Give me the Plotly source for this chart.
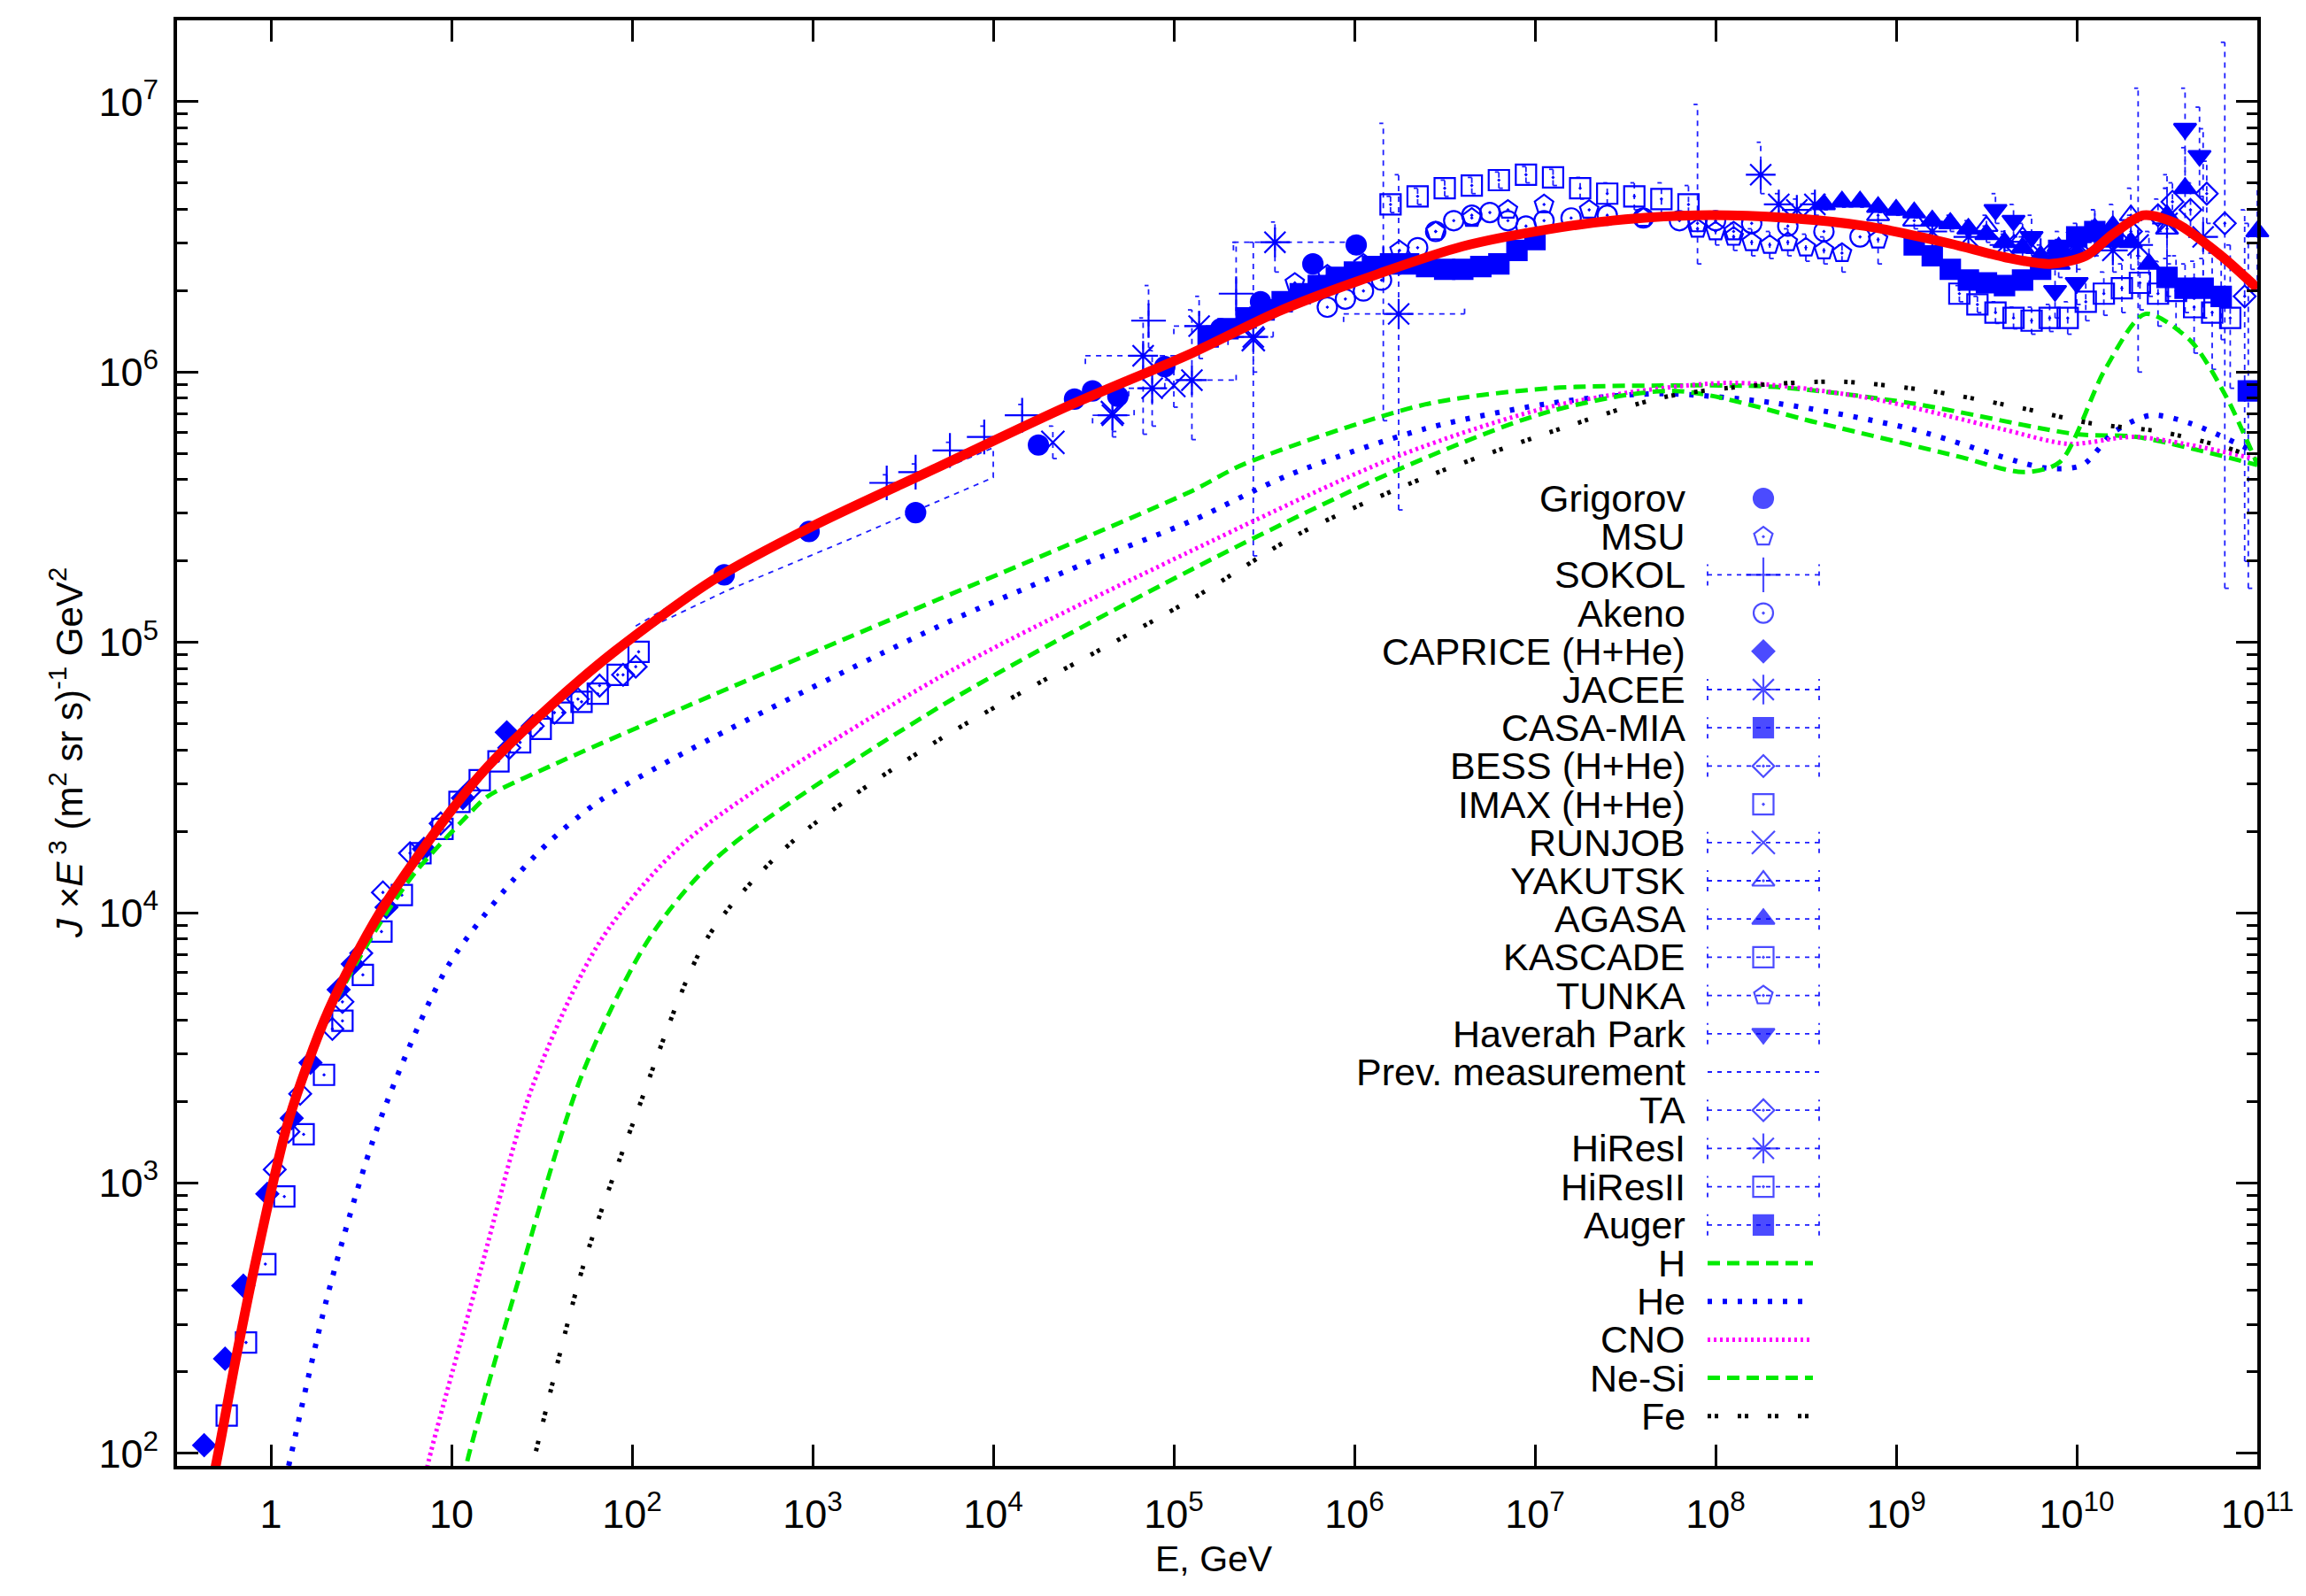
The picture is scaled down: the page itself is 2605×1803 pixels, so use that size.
import plotly.graph_objects as go

# ------------------------------------------------------------------
# Data (all values are log10 of E [GeV] and of J*E^3)
# ------------------------------------------------------------------
total_logE = [-0.36, -0.307, -0.2, -0.091, 0.097, 0.32, 0.603, 0.978, 1.2, 1.54, 1.9, 2.448, 3.0, 3.70,
              4.4, 5.10, 5.6, 6.14, 6.6, 7.14, 7.5, 7.9, 8.4, 8.83, 9.3, 9.6, 9.85, 10.05, 10.2, 10.37,
              10.55, 10.8, 11.0]
total_logJ = [1.80, 1.95, 2.33, 2.69, 3.23, 3.64, 4.0, 4.36, 4.54, 4.76, 4.965, 5.23, 5.43, 5.65,
              5.87, 6.07, 6.23, 6.365, 6.465, 6.535, 6.565, 6.58, 6.57, 6.54, 6.475, 6.425, 6.40, 6.43, 6.51, 6.58,
              6.55, 6.43, 6.31]

H_logE = [-0.36, -0.307, -0.091, 0.097, 0.32, 0.603, 0.8, 1.09, 1.2, 1.54, 2.29, 3.70, 4.2, 5.10, 5.39,
          6.39, 7.08, 7.7, 8.33, 9.08, 10.0, 10.33, 11.0]
H_logJ = [1.80, 1.95, 2.69, 3.22, 3.62, 3.96, 4.15, 4.36, 4.43, 4.54, 4.76, 5.16, 5.30, 5.56, 5.66,
          5.88, 5.94, 5.95, 5.945, 5.885, 5.77, 5.76, 5.656]

He_logE = [0.08, 0.097, 0.32, 0.603, 0.978, 1.353, 1.546, 1.823, 2.44, 3.70, 4.5, 5.10, 5.64, 6.39, 7.14,
           7.706, 8.33, 9.08, 9.83, 10.03, 10.21, 10.41, 10.63, 11.0]
He_logJ = [1.90, 1.95, 2.60, 3.23, 3.80, 4.13, 4.265, 4.415, 4.645, 5.06, 5.29, 5.45, 5.62, 5.79, 5.89,
           5.92, 5.885, 5.79, 5.645, 5.656, 5.78, 5.84, 5.81, 5.70]

CNO_logE = [0.85, 0.866, 1.166, 1.447, 1.823, 2.30, 3.70, 5.07, 6.245, 7.14, 8.08, 8.83, 9.58, 9.956,
            10.33, 11.0]
CNO_logJ = [1.88, 1.95, 2.69, 3.355, 3.894, 4.265, 4.87, 5.33, 5.69, 5.88, 5.96, 5.906, 5.79, 5.734,
            5.76, 5.677]

NeSi_logE = [1.07, 1.08, 1.353, 1.728, 2.10, 2.48, 3.70, 5.10, 6.245, 7.08, 7.78, 8.58, 9.33, 9.706,
             9.906, 10.157, 10.38, 10.63, 10.83, 10.94, 11.0]
NeSi_logJ = [1.90, 1.95, 2.60, 3.41, 3.91, 4.21, 4.76, 5.27, 5.64, 5.854, 5.93, 5.81, 5.69, 5.63,
             5.667, 6.01, 6.215, 6.116, 5.906, 5.75, 5.66]

Fe_logE = [1.43, 1.447, 1.728, 2.01, 2.42, 2.90, 3.70, 5.10, 5.69, 6.39, 7.14, 7.706, 8.206, 8.706,
           9.206, 9.706, 10.08, 10.457, 10.83, 11.0]
Fe_logJ = [1.90, 1.95, 2.69, 3.23, 3.91, 4.27, 4.64, 5.16, 5.40, 5.61, 5.79, 5.906, 5.95, 5.964,
           5.928, 5.865, 5.81, 5.78, 5.72, 5.68]

grigorov_logE = [2.51, 2.98, 3.57, 4.25, 4.45, 4.55, 4.69, 4.95, 5.26, 5.48, 5.77, 6.01]
grigorov_logJ = [5.25, 5.41, 5.48, 5.73, 5.90, 5.93, 5.91, 6.02, 6.16, 6.26, 6.40, 6.47]

msu_logE = [5.67, 5.85, 6.05, 6.25, 6.45, 6.65, 6.85, 7.05, 7.3, 7.6, 7.9, 8.1]
msu_logJ = [6.33, 6.36, 6.40, 6.45, 6.52, 6.57, 6.60, 6.62, 6.60, 6.57, 6.53, 6.52]

sokol_logE = [3.41, 3.57, 3.76, 3.95, 4.16, 4.86, 5.345, 6.16]
sokol_logJ = [5.59, 5.63, 5.71, 5.76, 5.84, 6.19, 6.29, 6.40]
sokol_lo = [5.56, 5.60, 5.68, 5.72, 5.80, 6.09, 6.13, 5.82]
sokol_hi = [5.62, 5.66, 5.74, 5.80, 5.88, 6.32, 6.48, 6.92]

akeno_logE = [5.85, 5.95, 6.05, 6.15, 6.25, 6.35, 6.45, 6.55, 6.65, 6.75, 6.85, 6.95, 7.05, 7.2, 7.4,
              7.6, 7.8, 8.0, 8.2, 8.4, 8.6, 8.8]
akeno_logJ = [6.24, 6.27, 6.30, 6.34, 6.40, 6.46, 6.52, 6.56, 6.58, 6.59, 6.56, 6.54, 6.56, 6.57, 6.58,
              6.57, 6.56, 6.56, 6.55, 6.54, 6.52, 6.50]

caprice_logE = [-0.37, -0.254, -0.153, -0.02, 0.115, 0.219, 0.375, 0.453, 0.64, 0.847, 1.063, 1.306]
caprice_logJ = [2.03, 2.35, 2.62, 2.96, 3.24, 3.445, 3.715, 3.81, 4.02, 4.236, 4.424, 4.667]

jacee_logE = [4.66, 4.83, 4.88, 5.10, 5.14, 5.44, 5.56, 6.245]
jacee_logJ = [5.84, 6.06, 5.94, 5.97, 6.17, 6.13, 6.48, 6.215]
jacee_lo = [5.76, 5.77, 5.80, 5.75, 6.05, 5.32, 6.37, 5.49]
jacee_hi = [5.92, 6.20, 6.08, 6.23, 6.28, 6.48, 6.555, 6.73]
jacee_left = [4.55, 4.51, 4.75, 4.95, 5.0, 5.30, 5.33, 5.94]
jacee_right = [4.78, 5.10, 5.0, 5.345, 5.30, 5.55, 6.0, 6.61]

casamia_logE = [5.19, 5.30, 5.40, 5.50, 5.60, 5.70, 5.80, 5.90, 6.00, 6.10, 6.20, 6.30, 6.40, 6.50,
                6.60, 6.70, 6.80, 6.90, 7.00]
casamia_logJ = [6.13, 6.16, 6.20, 6.23, 6.26, 6.29, 6.32, 6.35, 6.37, 6.39, 6.40, 6.40, 6.39, 6.38,
                6.38, 6.39, 6.40, 6.45, 6.49]

bess_logE = [0.021, 0.097, 0.162, 0.34, 0.396, 0.5, 0.62, 0.77, 0.94, 1.1, 1.32, 1.45, 1.57, 1.70, 1.82,
             1.95, 2.02]
bess_logJ = [3.05, 3.19, 3.33, 3.57, 3.67, 3.85, 4.075, 4.22, 4.33, 4.45, 4.61, 4.69, 4.74, 4.79, 4.84,
             4.88, 4.91]

imax_logE = [-0.245, -0.138, -0.031, 0.074, 0.181, 0.294, 0.396, 0.509, 0.612, 0.725, 0.828, 0.95, 1.044,
             1.156, 1.26, 1.38, 1.494, 1.616, 1.72, 1.81, 1.92, 2.036]
imax_logJ = [2.14, 2.41, 2.70, 2.95, 3.18, 3.40, 3.60, 3.77, 3.93, 4.065, 4.22, 4.31, 4.41, 4.49, 4.56,
             4.63, 4.68, 4.74, 4.78, 4.81, 4.88, 4.965]

runjob_logE = [4.33, 4.66, 5.0, 5.44]
runjob_logJ = [5.74, 5.85, 5.95, 6.12]
runjob_lo = [5.68, 5.78, 5.87, 6.0]
runjob_hi = [5.80, 5.92, 6.03, 6.24]

yakutsk_logE = [8.9, 9.1, 9.3, 9.5, 9.7, 9.9, 10.1, 10.3, 10.5]
yakutsk_logJ = [6.58, 6.56, 6.55, 6.54, 6.50, 6.46, 6.53, 6.58, 6.53]
yakutsk_lo = [6.55, 6.53, 6.52, 6.50, 6.45, 6.40, 6.45, 6.48, 6.38]
yakutsk_hi = [6.61, 6.59, 6.58, 6.58, 6.55, 6.52, 6.60, 6.68, 6.68]

agasa_logE = [8.6, 8.7, 8.8, 8.9, 9.0, 9.1, 9.2, 9.3, 9.4, 9.5, 9.6, 9.7, 9.8, 9.9, 10.0, 10.1, 10.2,
              10.3, 10.4, 10.5, 10.6, 11.0]
agasa_logJ = [6.62, 6.63, 6.63, 6.61, 6.60, 6.59, 6.56, 6.55, 6.53, 6.51, 6.48, 6.46, 6.43, 6.40, 6.44,
              6.53, 6.54, 6.48, 6.40, 6.58, 6.68, 6.52]
agasa_lo = [6.60, 6.61, 6.61, 6.59, 6.58, 6.57, 6.54, 6.53, 6.50, 6.48, 6.45, 6.42, 6.39, 6.35, 6.38,
            6.46, 6.46, 6.38, 6.28, 6.43, 6.53, 6.30]
agasa_hi = [6.64, 6.65, 6.65, 6.63, 6.62, 6.61, 6.58, 6.57, 6.56, 6.54, 6.51, 6.50, 6.47, 6.45, 6.50,
            6.60, 6.62, 6.58, 6.52, 6.73, 6.83, 6.70]

kascade_logE = [6.2, 6.35, 6.5, 6.65, 6.8, 6.95, 7.1, 7.25, 7.4, 7.55, 7.7, 7.85]
kascade_logJ = [6.62, 6.65, 6.68, 6.69, 6.71, 6.73, 6.72, 6.68, 6.66, 6.65, 6.64, 6.62]
kascade_lo = [6.59, 6.62, 6.65, 6.66, 6.68, 6.70, 6.69, 6.64, 6.62, 6.60, 6.58, 6.55]
kascade_hi = [6.65, 6.68, 6.71, 6.72, 6.74, 6.76, 6.75, 6.72, 6.70, 6.70, 6.70, 6.69]

tunka_logE = [7.9, 8.0, 8.1, 8.2, 8.3, 8.4, 8.5, 8.6, 8.7, 8.9]
tunka_logJ = [6.55, 6.52, 6.50, 6.48, 6.47, 6.48, 6.46, 6.45, 6.44, 6.49]
tunka_lo = [6.40, 6.47, 6.45, 6.43, 6.42, 6.43, 6.41, 6.40, 6.37, 6.40]
tunka_hi = [6.99, 6.57, 6.55, 6.53, 6.52, 6.53, 6.51, 6.50, 6.47, 6.62]

haverah_logE = [9.55, 9.65, 9.75, 9.88, 10.0, 10.6, 10.68]
haverah_logJ = [6.60, 6.56, 6.50, 6.30, 6.33, 6.90, 6.80]
haverah_lo = [6.55, 6.50, 6.43, 6.20, 6.25, 6.70, 6.65]
haverah_hi = [6.66, 6.62, 6.58, 6.40, 6.42, 7.05, 6.98]

prev_upper_logE = [2.02, 2.70, 3.32, 4.0]
prev_upper_logJ = [5.06, 5.33, 5.53, 5.72]
prev_lower_logE = [2.02, 2.52, 3.20, 4.0]
prev_lower_logJ = [5.03, 5.19, 5.38, 5.61]

ta_logE = [9.9, 10.1, 10.3, 10.45, 10.53, 10.63, 10.72, 10.82, 10.93]
ta_logJ = [6.45, 6.47, 6.52, 6.58, 6.63, 6.60, 6.66, 6.55, 6.28]
ta_lo = [6.41, 6.43, 6.47, 6.52, 6.56, 6.50, 6.55, 5.20, 5.30]
ta_hi = [6.49, 6.51, 6.57, 6.64, 6.70, 6.70, 6.78, 7.22, 6.60]

hires1_logE = [8.25, 8.35, 8.45, 8.55, 9.2, 9.4, 9.6, 9.8, 10.0, 10.2, 10.34, 10.5, 10.7]
hires1_logJ = [6.73, 6.62, 6.60, 6.62, 6.52, 6.50, 6.47, 6.44, 6.48, 6.45, 6.47, 6.55, 6.50]
hires1_lo = [6.66, 6.58, 6.56, 6.58, 6.48, 6.46, 6.42, 6.38, 6.42, 6.37, 6.00, 6.40, 6.20]
hires1_hi = [6.85, 6.66, 6.64, 6.66, 6.56, 6.54, 6.52, 6.50, 6.55, 6.54, 7.05, 6.68, 6.90]

hires2_logE = [9.35, 9.45, 9.55, 9.65, 9.75, 9.85, 9.95, 10.05, 10.15, 10.25, 10.35, 10.45, 10.55, 10.65,
               10.75, 10.85]
hires2_logJ = [6.29, 6.25, 6.22, 6.20, 6.19, 6.20, 6.20, 6.26, 6.29, 6.31, 6.33, 6.29, 6.30, 6.24,
               6.22, 6.20]
hires2_lo = [6.26, 6.22, 6.18, 6.16, 6.14, 6.15, 6.14, 6.19, 6.21, 6.22, 6.23, 6.17, 6.16, 6.07,
             6.01, 5.94]
hires2_hi = [6.32, 6.28, 6.26, 6.24, 6.24, 6.25, 6.26, 6.33, 6.37, 6.40, 6.43, 6.41, 6.43, 6.41,
             6.44, 6.47]

auger_logE = [9.1, 9.2, 9.3, 9.4, 9.5, 9.6, 9.7, 9.8, 9.9, 10.0, 10.1, 10.2, 10.5, 10.6, 10.7, 10.8,
              10.95]
auger_logJ = [6.47, 6.43, 6.38, 6.34, 6.33, 6.32, 6.34, 6.38, 6.45, 6.50, 6.52, 6.50, 6.35, 6.31, 6.31,
              6.28, 5.93]
auger_lo = [6.45, 6.41, 6.36, 6.32, 6.31, 6.30, 6.32, 6.36, 6.42, 6.47, 6.48, 6.45, 6.28, 6.22, 6.20,
            6.12, 5.20]
auger_hi = [6.49, 6.45, 6.40, 6.36, 6.35, 6.34, 6.36, 6.40, 6.48, 6.53, 6.56, 6.55, 6.42, 6.40, 6.42,
            6.42, 6.55]

x_tick_exp = [0, 1, 2, 3, 4, 5, 6, 7, 8, 9, 10, 11]
y_tick_exp = [2, 3, 4, 5, 6, 7]
legend_labels = ["Grigorov", "MSU", "SOKOL", "Akeno", "CAPRICE (H+He)", "JACEE", "CASA-MIA",
                 "BESS (H+He)", "IMAX (H+He)", "RUNJOB", "YAKUTSK", "AGASA", "KASCADE", "TUNKA",
                 "Haverah Park", "Prev. measurement", "TA", "HiResI", "HiResII", "Auger",
                 "H", "He", "CNO", "Ne-Si", "Fe"]

# ------------------------------------------------------------------
BLUE = "rgb(0,0,255)"
OPEN_BLUE = "rgb(30,30,255)"
FONT = "Liberation Sans, Arial, Helvetica, sans-serif"


def P(v):
    return [10 ** t for t in v]


fig = go.Figure()

# ---------- error bars (dashed, drawn from the data arrays) ----------
ex, ey = [], []
cap = 0.022  # half cap width in decades
for le, lo, hi in [(sokol_logE, sokol_lo, sokol_hi), (jacee_logE, jacee_lo, jacee_hi),
                   (runjob_logE, runjob_lo, runjob_hi), (yakutsk_logE, yakutsk_lo, yakutsk_hi),
                   (agasa_logE, agasa_lo, agasa_hi), (kascade_logE, kascade_lo, kascade_hi),
                   (tunka_logE, tunka_lo, tunka_hi), (haverah_logE, haverah_lo, haverah_hi),
                   (ta_logE, ta_lo, ta_hi), (hires1_logE, hires1_lo, hires1_hi),
                   (hires2_logE, hires2_lo, hires2_hi), (auger_logE, auger_lo, auger_hi)]:
    for e, l, h in zip(le, lo, hi):
        ex += [10 ** e, 10 ** e, None, 10 ** (e - cap), 10 ** e, None, 10 ** e, 10 ** (e + cap), None]
        ey += [10 ** l, 10 ** h, None, 10 ** h, 10 ** h, None, 10 ** l, 10 ** l, None]
for l, r, y in zip(jacee_left, jacee_right, jacee_logJ):
    ex += [10 ** l, 10 ** r, None, 10 ** l, 10 ** l, None, 10 ** r, 10 ** r, None]
    ey += [10 ** y, 10 ** y, None, 10 ** (y - 0.03), 10 ** y, None, 10 ** y, 10 ** (y + 0.03), None]
fig.add_trace(go.Scatter(x=ex, y=ey, mode="lines", hoverinfo="skip", showlegend=False,
                         line=dict(color=OPEN_BLUE, width=1.8, dash="6px,6px")))

# Previous measurement band
pbx = P(prev_upper_logE) + P(prev_lower_logE[::-1])
pby = P(prev_upper_logJ) + P(prev_lower_logJ[::-1])
fig.add_trace(go.Scatter(x=pbx, y=pby, mode="lines", hoverinfo="skip", showlegend=False,
                         line=dict(color=OPEN_BLUE, width=1.8, dash="6px,6px")))

# ---------- data markers ----------
series = [
    (grigorov_logE, grigorov_logJ, "circle", 22),
    (msu_logE, msu_logJ, "pentagon-open-dot", 22),
    (sokol_logE, sokol_logJ, "cross-thin-open", 28),
    (akeno_logE, akeno_logJ, "circle-open-dot", 22),
    (caprice_logE, caprice_logJ, "diamond", 19),
    (jacee_logE, jacee_logJ, "asterisk-open", 28),
    (casamia_logE, casamia_logJ, "square", 22),
    (bess_logE, bess_logJ, "diamond-open-dot", 19),
    (imax_logE, imax_logJ, "square-open-dot", 23),
    (runjob_logE, runjob_logJ, "x-thin-open", 26),
    (yakutsk_logE, yakutsk_logJ, "triangle-up-open-dot", 22),
    (agasa_logE, agasa_logJ, "triangle-up", 22),
    (kascade_logE, kascade_logJ, "square-open-dot", 23),
    (tunka_logE, tunka_logJ, "pentagon-open-dot", 22),
    (haverah_logE, haverah_logJ, "triangle-down", 22),
    (ta_logE, ta_logJ, "diamond-open-dot", 19),
    (hires1_logE, hires1_logJ, "asterisk-open", 28),
    (hires2_logE, hires2_logJ, "square-open-dot", 23),
    (auger_logE, auger_logJ, "square", 22),
]
for le, lj, sym, sz in series:
    fig.add_trace(go.Scatter(x=P(le), y=P(lj), mode="markers", showlegend=False, cliponaxis=False,
                             marker=dict(symbol=sym, size=sz, color=BLUE,
                                         line=dict(color=BLUE, width=2.2))))

# ---------- component model lines ----------
comp_styles = [
    (H_logE, H_logJ, "rgb(0,235,0)", 5, "14px,8px"),
    (He_logE, He_logJ, "rgb(0,0,255)", 6, "5px,12px"),
    (CNO_logE, CNO_logJ, "rgb(255,0,255)", 5, "3px,4px"),
    (NeSi_logE, NeSi_logJ, "rgb(0,235,0)", 5, "14px,8px"),
    (Fe_logE, Fe_logJ, "rgb(0,0,0)", 5, "4px,4px,4px,22px"),
]
for le, lj, col, w, dash in comp_styles:
    fig.add_trace(go.Scatter(x=P(le), y=P(lj), mode="lines", showlegend=False, hoverinfo="skip",
                             line=dict(color=col, width=w, dash=dash, shape="spline", smoothing=0.8)))

# total
fig.add_trace(go.Scatter(x=P(total_logE), y=P(total_logJ), mode="lines", showlegend=False,
                         line=dict(color="rgb(255,0,0)", width=11, shape="spline", smoothing=0.8)))

# ---------- hand-built legend (text left, sample right) ----------
PLOT_L, PLOT_W, PLOT_T, PLOT_H = 200.0, 2350.0, 23.0, 1633.0


def px(X):
    return (X - PLOT_L) / PLOT_W


def py(Y):
    return 1 - (Y - PLOT_T) / PLOT_H


row_Y = [563 + 43.2 * i for i in range(len(legend_labels))]
text_x = px(1906)
sym_x = px(1992)
lx0, lx1 = px(1929), px(2055)
cap_h = 12 / PLOT_H

for lab, Y in zip(legend_labels, row_Y):
    fig.add_annotation(x=text_x, y=py(Y), xref="paper", yref="paper", text=lab, showarrow=False,
                       xanchor="right", yanchor="middle", font=dict(family=FONT, size=43, color="black"))

marker_syms = [s[2] for s in series]
marker_sizes = [s[3] for s in series]
has_bar = [False, False, True, False, False, True, True, True, False, True, True, True, True, True, True,
           True, True, True, True]
mark_rows = [i for i in range(20) if i != 15]
bx, by = [], []
for k, i in enumerate(mark_rows):
    if has_bar[k]:
        yy = py(row_Y[i])
        bx += [lx0, lx1, None, lx0, lx0, None, lx1, lx1, None]
        by += [yy, yy, None, yy - cap_h, yy + cap_h, None, yy - cap_h, yy + cap_h, None]
# Prev. measurement sample
bx += [lx0, lx1, None]
by += [py(row_Y[15]), py(row_Y[15]), None]
fig.add_trace(go.Scatter(x=bx, y=by, xaxis="x2", yaxis="y2", mode="lines", showlegend=False,
                         hoverinfo="skip", line=dict(color=OPEN_BLUE, width=1.8, dash="5px,6px")))
fig.add_trace(go.Scatter(x=[sym_x] * len(mark_rows), y=[py(row_Y[i]) for i in mark_rows],
                         xaxis="x2", yaxis="y2", mode="markers", showlegend=False, hoverinfo="skip",
                         cliponaxis=False,
                         marker=dict(symbol=marker_syms, size=marker_sizes, color=BLUE,
                                     line=dict(color=BLUE, width=2.2))))
for k, (_, _, col, w, dash) in enumerate(comp_styles):
    yy = py(row_Y[20 + k])
    fig.add_trace(go.Scatter(x=[lx0, lx1 - 0.003], y=[yy, yy], xaxis="x2", yaxis="y2", mode="lines",
                             showlegend=False, hoverinfo="skip",
                             line=dict(color=col, width=w, dash=dash)))

# ---------- axes ----------
x_vals = [10 ** k for k in x_tick_exp]
x_text = ["1" if k == 0 else ("10" if k == 1 else f"10<sup>{k}</sup>") for k in x_tick_exp]
y_vals = [10 ** k for k in y_tick_exp]
y_text = [f"10<sup>{k}</sup>" for k in y_tick_exp]
y_minor = [m * 10 ** k for k in range(1, 8) for m in range(2, 10)]

axis_common = dict(showgrid=False, zeroline=False, showline=True, linecolor="black", linewidth=4,
                   mirror="ticks", ticks="inside", tickcolor="black", tickwidth=3,
                   tickfont=dict(family=FONT, size=45, color="black"))

fig.update_layout(
    width=2605, height=1803,
    margin=dict(l=200, r=55, t=23, b=147),
    paper_bgcolor="white", plot_bgcolor="white",
    showlegend=False,
    font=dict(family=FONT, size=42, color="black"),
    xaxis=dict(type="log", range=[-0.52, 11.0], tickmode="array", tickvals=x_vals, ticktext=x_text,
               ticklen=24, ticklabelstandoff=12, **axis_common),
    yaxis=dict(type="log", range=[1.9535, 7.301], tickmode="array", tickvals=y_vals, ticktext=y_text,
               ticklen=24, ticklabelstandoff=8,
               minor=dict(tickmode="array", tickvals=y_minor, ticks="inside", ticklen=12, tickwidth=3,
                          tickcolor="black", showgrid=False),
               **axis_common),
    xaxis2=dict(range=[0, 1], overlaying="x", anchor="y2", visible=False, fixedrange=True),
    yaxis2=dict(range=[0, 1], overlaying="y", anchor="x2", visible=False, fixedrange=True),
)

fig.add_annotation(x=px(1371), y=py(1761), xref="paper", yref="paper", text="E, GeV", showarrow=False,
                   xanchor="center", yanchor="middle", font=dict(family=FONT, size=41, color="black"))
fig.add_annotation(x=px(75), y=py(851), xref="paper", yref="paper", textangle=-90, showarrow=False,
                   text="<i>J</i> ×<i>E</i><sup> 3</sup> (m<sup>2</sup> sr s)<sup>-1</sup> GeV<sup>2</sup>",
                   xanchor="center", yanchor="middle", font=dict(family=FONT, size=42, color="black"))

fig.write_html("out.html")
